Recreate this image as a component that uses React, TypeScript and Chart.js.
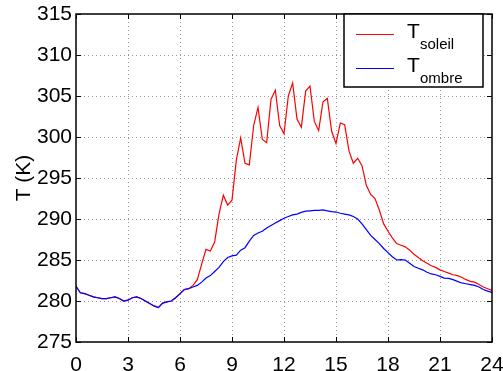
import React, { useEffect, useRef } from "react";
import { Chart, registerables } from "chart.js";

Chart.register(...registerables);

const hours: number[] = [];
for (let i = 0; i <= 96; i++) hours.push(i * 0.25);

const tOmbre: number[] = [
  281.8, 281.0, 280.9, 280.7, 280.5, 280.4, 280.3, 280.3,
  280.4, 280.5, 280.3, 280.0, 280.1, 280.4, 280.5, 280.3,
  280.0, 279.7, 279.4, 279.2, 279.75, 279.9, 280.0, 280.4,
  280.9, 281.4, 281.5, 281.7, 281.9, 282.3, 282.8, 283.1,
  283.6, 284.1, 284.8, 285.3, 285.5, 285.6, 286.2, 286.5,
  287.3, 288.0, 288.3, 288.5, 288.9, 289.2, 289.5, 289.8,
  290.1, 290.3, 290.5, 290.6, 290.8, 290.95, 291.0, 291.05,
  291.05, 291.1, 291.0, 290.9, 290.85, 290.7, 290.6, 290.5,
  290.3, 290.0, 289.4, 288.7, 288.0, 287.5, 287.0, 286.4,
  285.9, 285.4, 285.0, 285.05, 285.0, 284.6, 284.2, 284.0,
  283.8, 283.5, 283.3, 283.2, 283.0, 282.8, 282.75, 282.6,
  282.4, 282.2, 282.1, 282.0, 281.9, 281.7, 281.4, 281.2,
  281.05,
];

const tSoleil: number[] = [
  281.8, 281.0, 280.9, 280.7, 280.5, 280.4, 280.3, 280.3,
  280.4, 280.5, 280.3, 280.0, 280.1, 280.4, 280.5, 280.3,
  280.0, 279.7, 279.4, 279.2, 279.75, 279.9, 280.0, 280.4,
  280.9, 281.4, 281.5, 281.9, 282.6, 284.5, 286.3, 286.1,
  287.2, 290.6, 292.9, 291.7, 292.3, 297.2, 299.9, 296.8,
  296.6, 301.4, 303.6, 299.7, 299.3, 304.6, 305.7, 301.4,
  300.4, 305.0, 306.6, 302.2, 301.2, 305.6, 306.2, 301.9,
  300.8, 304.3, 304.7, 300.7, 299.2, 301.7, 301.5, 298.3,
  296.8, 297.4, 296.5, 294.1, 293.0, 292.5, 291.1, 289.4,
  288.5, 287.7, 287.0, 286.8, 286.6, 286.2, 285.7, 285.3,
  284.9, 284.6, 284.3, 284.1, 283.8, 283.6, 283.4, 283.2,
  283.1, 282.9, 282.6, 282.4, 282.3, 282.0, 281.7, 281.5,
  281.3,
];

const xTicks: number[] = [0, 3, 6, 9, 12, 15, 18, 21, 24];
const yTicks: number[] = [275, 280, 285, 290, 295, 300, 305, 310, 315];
const yTitle = "T (K)";
const legendMain = ["T", "T"];
const legendSub = ["soleil", "ombre"];
const legendColors = ["#ff0000", "#0000ff"];

const FONT = "Liberation Sans, Arial, Helvetica, sans-serif";

const framePlugin = {
  id: "matlabFrame",
  afterDatasetsDraw(chart: any) {
    const { ctx, chartArea: a, scales } = chart;
    ctx.save();
    ctx.strokeStyle = "#000";
    ctx.lineWidth = 1;
    const tl = 5;
    ctx.beginPath();
    xTicks.forEach((v) => {
      const x = Math.round(scales.x.getPixelForValue(v)) + 0.5;
      ctx.moveTo(x, a.bottom);
      ctx.lineTo(x, a.bottom - tl);
      ctx.moveTo(x, a.top);
      ctx.lineTo(x, a.top + tl);
    });
    yTicks.forEach((v) => {
      const y = Math.round(scales.y.getPixelForValue(v)) + 0.5;
      ctx.moveTo(a.left, y);
      ctx.lineTo(a.left + tl, y);
      ctx.moveTo(a.right, y);
      ctx.lineTo(a.right - tl, y);
    });
    ctx.stroke();
    ctx.lineWidth = 1.5;
    ctx.strokeRect(a.left, a.top, a.right - a.left, a.bottom - a.top);

    ctx.fillStyle = "#000";
    ctx.font = `21px ${FONT}`;
    ctx.textAlign = "center";
    ctx.textBaseline = "middle";
    ctx.translate(24, (a.top + a.bottom) / 2);
    ctx.rotate(-Math.PI / 2);
    ctx.fillText(yTitle, 0, 0);
    ctx.restore();

    ctx.save();
    const lx = 344, ly = 14, lw = 139, lh = 73;
    ctx.fillStyle = "#fff";
    ctx.fillRect(lx, ly, lw, lh);
    ctx.strokeStyle = "#000";
    ctx.lineWidth = 1.5;
    ctx.strokeRect(lx, ly, lw, lh);
    const rows = [34, 68];
    rows.forEach((ry, i) => {
      ctx.strokeStyle = legendColors[i];
      ctx.lineWidth = 1.2;
      ctx.beginPath();
      ctx.moveTo(356, ry + 0.5);
      ctx.lineTo(394, ry + 0.5);
      ctx.stroke();
      ctx.fillStyle = "#000";
      ctx.textAlign = "left";
      ctx.textBaseline = "alphabetic";
      ctx.font = `21px ${FONT}`;
      ctx.fillText(legendMain[i], 407, ry + 4);
      ctx.font = `15px ${FONT}`;
      ctx.fillText(legendSub[i], 420, ry + 15);
    });
    ctx.restore();
  },
};

export default function App() {
  const ref = useRef<HTMLCanvasElement | null>(null);
  useEffect(() => {
    if (!ref.current) return;
    const chart = new Chart(ref.current, {
      type: "line",
      data: {
        datasets: [
          {
            label: "T ombre",
            data: hours.map((h, i) => ({ x: h, y: tOmbre[i] })),
            borderColor: "#0000ff",
            borderWidth: 1.2,
            pointRadius: 0,
            tension: 0,
            fill: false,
          },
          {
            label: "T soleil",
            data: hours.map((h, i) => ({ x: h, y: tSoleil[i] })),
            borderColor: "#ff0000",
            borderWidth: 1.2,
            pointRadius: 0,
            tension: 0,
            fill: false,
          },
        ],
      },
      options: {
        responsive: false,
        animation: false,
        layout: { padding: { left: 0, top: 14, right: 11, bottom: 0 } },
        plugins: { legend: { display: false }, tooltip: { enabled: false } },
        scales: {
          x: {
            type: "linear",
            min: 0,
            max: 24,
            afterBuildTicks: (s: any) => {
              s.ticks = xTicks.map((v) => ({ value: v }));
            },
            afterFit: (s: any) => {
              s.height = 29;
              s.paddingLeft = 0;
              s.paddingRight = 0;
            },
            ticks: {
              color: "#000",
              font: { family: FONT, size: 21 },
              padding: 11,
              maxRotation: 0,
              autoSkip: false,
            },
            grid: {
              color: (c: any) =>
                c.tick && (c.tick.value === 0 || c.tick.value === 24) ? "rgba(0,0,0,0)" : "#999999",
              lineWidth: 1,
              drawTicks: false,
              tickLength: 0,
            },
            border: { display: false, dash: [1, 3] },
          },
          y: {
            type: "linear",
            min: 275,
            max: 315,
            afterBuildTicks: (s: any) => {
              s.ticks = yTicks.map((v) => ({ value: v }));
            },
            afterFit: (s: any) => {
              s.width = 76;
              s.paddingTop = 0;
              s.paddingBottom = 0;
            },
            ticks: {
              color: "#000",
              font: { family: FONT, size: 21 },
              padding: 4,
              autoSkip: false,
            },
            grid: {
              color: (c: any) =>
                c.tick && (c.tick.value === 275 || c.tick.value === 315) ? "rgba(0,0,0,0)" : "#999999",
              lineWidth: 1,
              drawTicks: false,
              tickLength: 0,
            },
            border: { display: false, dash: [1, 3] },
          },
        },
      },
      plugins: [framePlugin],
    });
    return () => chart.destroy();
  }, []);
  return (
    <div style={{ position: "fixed", left: 0, top: 0, width: 503, height: 371, background: "#fff" }}>
      <canvas ref={ref} width={503} height={371} style={{ display: "block" }} />
    </div>
  );
}
